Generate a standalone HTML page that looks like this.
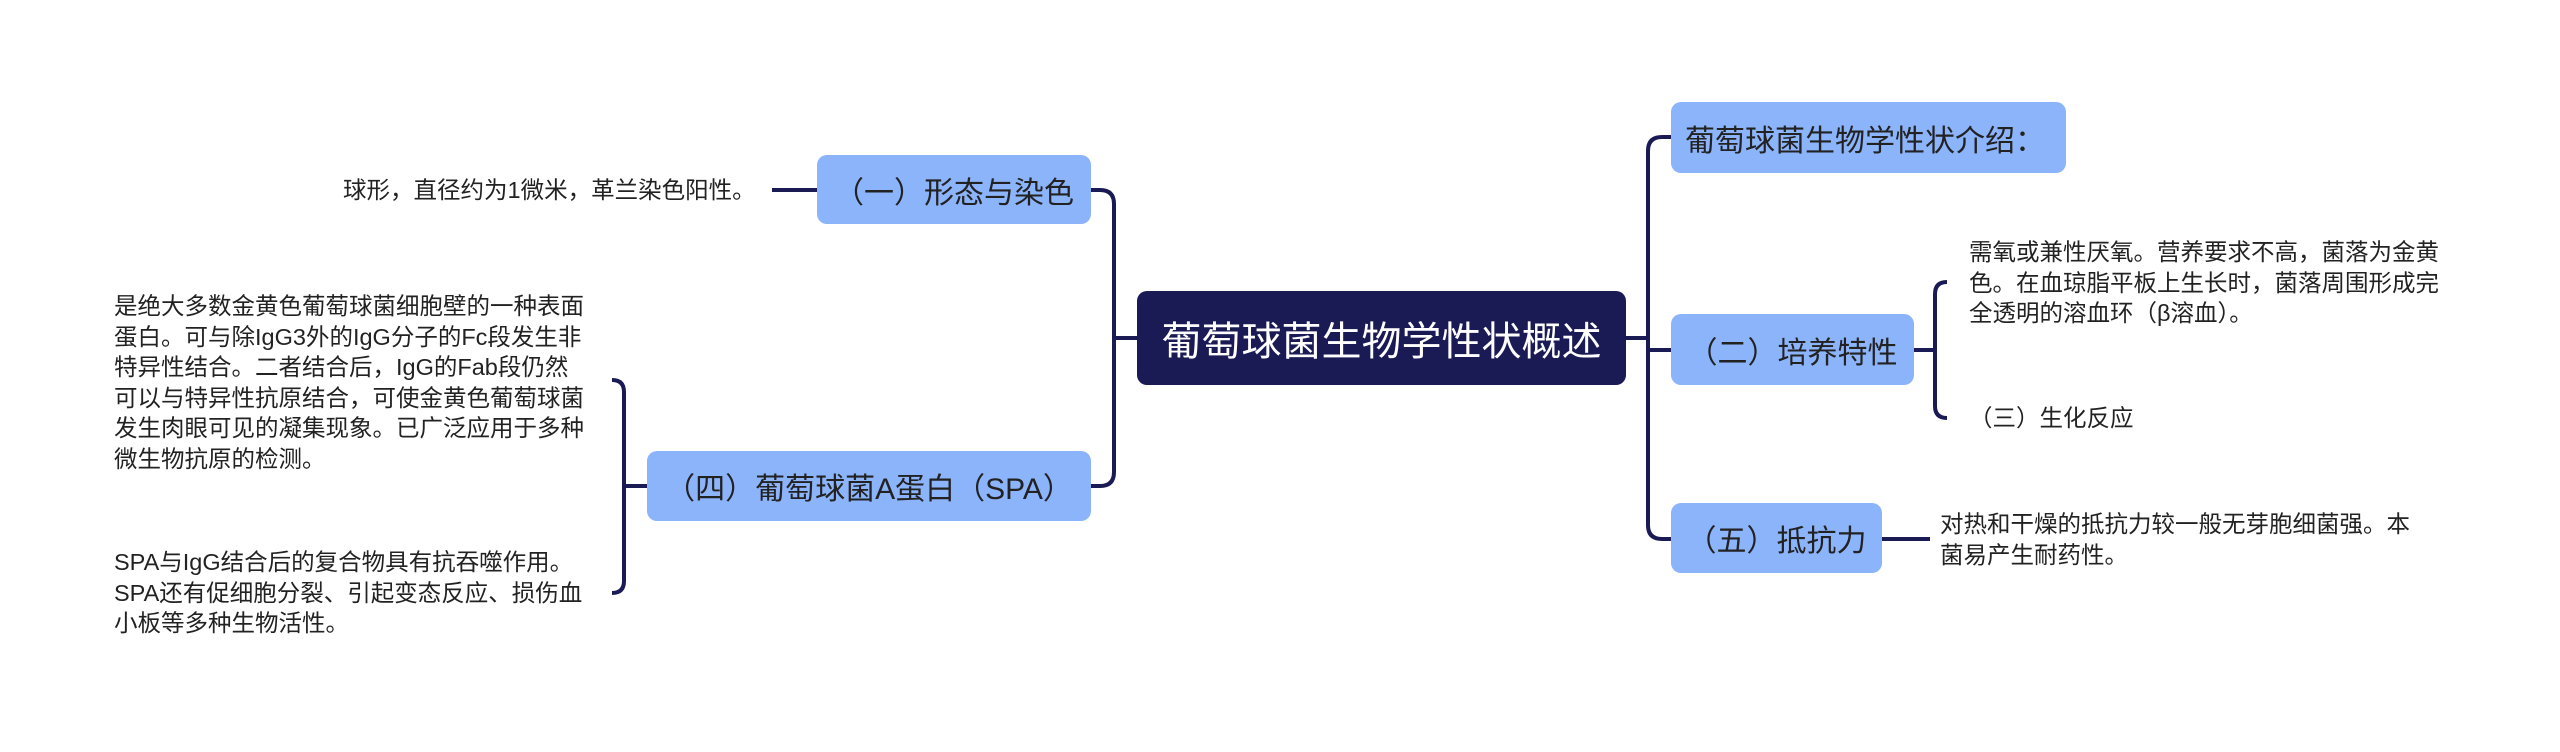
<!DOCTYPE html>
<html><head><meta charset="utf-8"><style>
body{margin:0;width:2560px;height:752px;background:#fff;position:relative;overflow:hidden;font-family:"Liberation Sans","Noto Sans CJK SC",sans-serif;}
.n{position:absolute;background:#8cb4fb;border-radius:10px;color:#222;font-size:30px;display:flex;align-items:center;justify-content:center;white-space:nowrap;box-sizing:border-box;}
.r{position:absolute;background:#1a1a55;border-radius:10px;color:#fff;font-size:40px;display:flex;align-items:center;justify-content:center;white-space:nowrap;}
.t{position:absolute;color:#222;font-size:23.5px;line-height:30.5px;white-space:nowrap;}
svg{position:absolute;left:0;top:0;}
</style></head><body>
<svg width="2560" height="752" fill="none" stroke="#1a1a55" stroke-width="4">
<path d="M1091 190 H1100 Q1114 190 1114 204 V472 Q1114 486 1100 486 H1091"/>
<path d="M1114 338 H1137"/>
<path d="M772 190 H817"/>
<path d="M647 486 H624"/>
<path d="M612 380 Q624 380 624 392 V581 Q624 593 612 593"/>
<path d="M1626 338 H1648"/>
<path d="M1671 137 H1662 Q1648 137 1648 151 V525 Q1648 539 1662 539 H1671"/>
<path d="M1648 350 H1671"/>
<path d="M1914 350 H1935"/>
<path d="M1947 282 Q1935 282 1935 294 V406 Q1935 418 1947 418"/>
<path d="M1882 539 H1930"/>
</svg>
<div class="r" style="left:1137px;top:291px;width:489px;height:94px;">葡萄球菌生物学性状概述</div>
<div class="n" style="left:817px;top:155px;width:274px;height:69px;">（一）形态与染色</div>
<div class="n" style="left:647px;top:451px;width:444px;height:70px;">（四）葡萄球菌A蛋白（SPA）</div>
<div class="n" style="left:1671px;top:102px;width:395px;height:71px;justify-content:flex-start;padding-left:14px;">葡萄球菌生物学性状介绍：</div>
<div class="n" style="left:1671px;top:314px;width:243px;height:71px;">（二）培养特性</div>
<div class="n" style="left:1671px;top:503px;width:211px;height:70px;">（五）抵抗力</div>
<div class="t" style="left:343px;top:175px;">球形，直径约为1微米，革兰染色阳性。</div>
<div class="t" style="left:114px;top:291px;">是绝大多数金黄色葡萄球菌细胞壁的一种表面<br>蛋白。可与除IgG3外的IgG分子的Fc段发生非<br>特异性结合。二者结合后，IgG的Fab段仍然<br>可以与特异性抗原结合，可使金黄色葡萄球菌<br>发生肉眼可见的凝集现象。已广泛应用于多种<br>微生物抗原的检测。</div>
<div class="t" style="left:114px;top:547px;">SPA与IgG结合后的复合物具有抗吞噬作用。<br>SPA还有促细胞分裂、引起变态反应、损伤血<br>小板等多种生物活性。</div>
<div class="t" style="left:1969px;top:237px;">需氧或兼性厌氧。营养要求不高，菌落为金黄<br>色。在血琼脂平板上生长时，菌落周围形成完<br>全透明的溶血环（β溶血）。</div>
<div class="t" style="left:1969px;top:403px;">（三）生化反应</div>
<div class="t" style="left:1940px;top:509px;">对热和干燥的抵抗力较一般无芽胞细菌强。本<br>菌易产生耐药性。</div>
</body></html>
